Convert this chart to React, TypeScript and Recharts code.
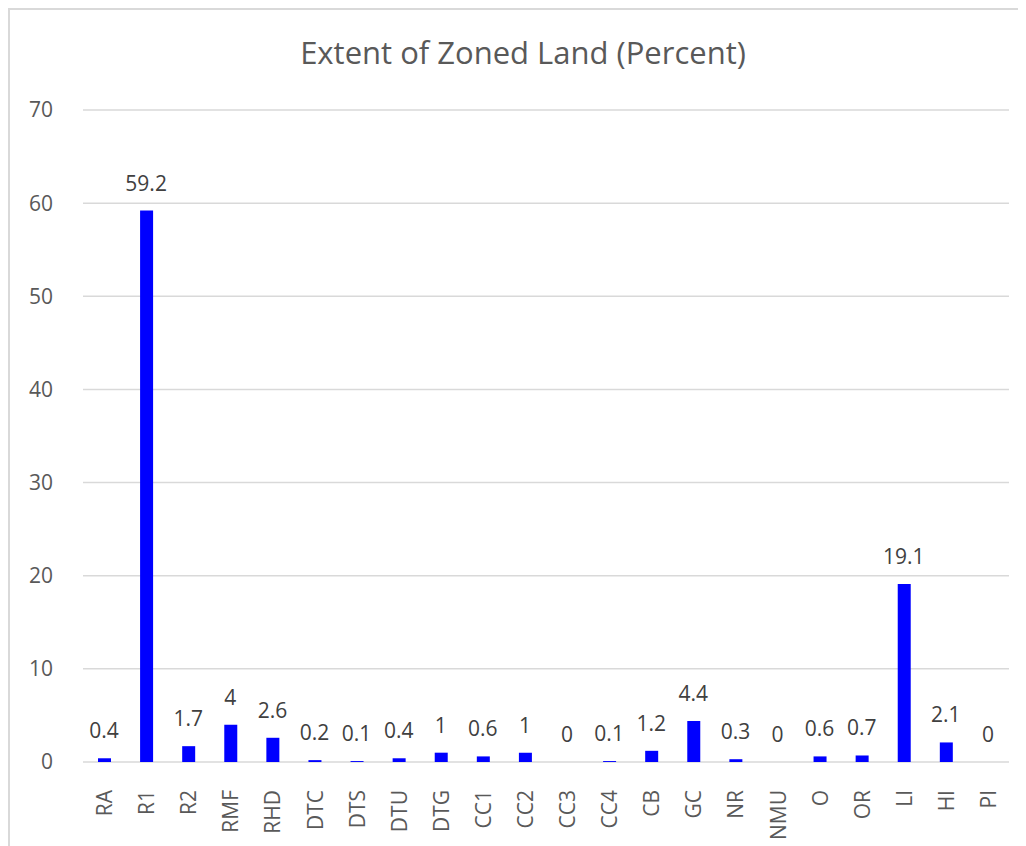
import { ComposedChart, Bar, Line, XAxis, YAxis, CartesianGrid, LabelList } from 'recharts'

const zones = ['RA', 'R1', 'R2', 'RMF', 'RHD', 'DTC', 'DTS', 'DTU', 'DTG', 'CC1', 'CC2', 'CC3', 'CC4', 'CB', 'GC', 'NR', 'NMU', 'O', 'OR', 'LI', 'HI', 'PI']
const percent = [0.4, 59.2, 1.7, 4, 2.6, 0.2, 0.1, 0.4, 1, 0.6, 1, 0, 0.1, 1.2, 4.4, 0.3, 0, 0.6, 0.7, 19.1, 2.1, 0]
const yTicks = [0, 10, 20, 30, 40, 50, 60, 70]

const data = zones.map((zone, i) => ({ zone, value: percent[i] }))

const FONT = '"Open Sans", sans-serif'

function ZoneTick({ x, y, payload }: any) {
  return (
    <text
      x={0}
      y={0}
      transform={`translate(${x},${y + 20}) rotate(-90)`}
      textAnchor="end"
      dominantBaseline="central"
      fill="#595959"
      fontSize={21}
      fontFamily={FONT}
    >
      {payload.value}
    </text>
  )
}

export default function App() {
  return (
    <div
      style={{
        position: 'relative',
        width: 1016,
        height: 836,
        borderTop: '2px solid #d9d9d9',
        borderLeft: '2px solid #d9d9d9',
        fontFamily: FONT,
      }}
    >
      <div
        style={{
          position: 'absolute',
          top: 21,
          left: 0,
          width: 1026,
          textAlign: 'center',
          fontSize: 31,
          color: '#595959',
        }}
      >
        Extent of Zoned Land (Percent)
      </div>
      <ComposedChart
        width={1016}
        height={836}
        data={data}
        margin={{ top: 100, right: 17, left: 0, bottom: 0 }}
        barCategoryGap={0}
      >
        <CartesianGrid vertical={false} stroke="#d9d9d9" strokeWidth={1.5} />
        <XAxis
          dataKey="zone"
          axisLine={false}
          tickLine={false}
          interval={0}
          height={84}
          tick={<ZoneTick />}
        />
        <YAxis
          domain={[0, 70]}
          ticks={yTicks}
          width={73}
          axisLine={false}
          tickLine={false}
          tickSize={0}
          tickMargin={30}
          tick={{ fill: '#595959', fontSize: 21, fontFamily: FONT }}
        />
        <Bar dataKey="value" fill="#0000ff" barSize={13} isAnimationActive={false} />
        {/* invisible line only to carry the value labels, so zeros get one too */}
        <Line
          dataKey="value"
          stroke="none"
          dot={false}
          activeDot={false}
          legendType="none"
          isAnimationActive={false}
        >
          <LabelList
            dataKey="value"
            position="top"
            offset={20}
            fill="#404040"
            fontSize={21}
            fontFamily={FONT}
          />
        </Line>
      </ComposedChart>
    </div>
  )
}
